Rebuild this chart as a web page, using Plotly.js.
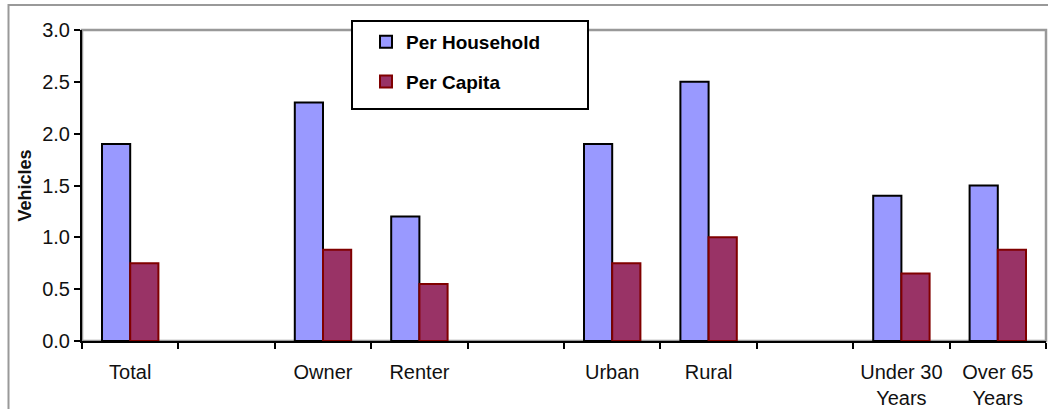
<!DOCTYPE html>
<html>
<head>
<meta charset="utf-8">
<script src="https://cdn.plot.ly/plotly-3.0.1.min.js"></script>
<style>
  html, body { margin: 0; padding: 0; background: #fff; }
  #chart { width: 1048px; height: 409px; }
</style>
</head>
<body>
<div id="chart"></div>
<script>
// Categories (blank slots separate the groups)
const categories = ['Total', ' ', 'Owner', 'Renter', '  ', 'Urban', 'Rural', '   ', 'Under 30<br>Years', 'Over 65<br>Years'];
const perHousehold = [1.9, null, 2.3, 1.2, null, 1.9, 2.5, null, 1.4, 1.5];
const perCapita    = [0.75, null, 0.88, 0.55, null, 0.75, 1.0, null, 0.65, 0.88];
const yTicks = [0, 0.5, 1.0, 1.5, 2.0, 2.5, 3.0];

const FONT = 'Liberation Sans, Arial, sans-serif';

const traces = [
  {
    type: 'bar', name: 'Per Household', x: categories, y: perHousehold,
    legendgroup: 'a',
    marker: { color: '#9999FF', line: { color: '#000000', width: 2 } },
    hoverinfo: 'x+y'
  },
  {
    type: 'bar', name: 'Per Capita', x: categories, y: perCapita,
    legendgroup: 'b',
    marker: { color: '#993366', line: { color: '#800000', width: 2 } },
    hoverinfo: 'x+y'
  }
];

const L = 82, R = 1046, T = 30, B = 341;
const W = R - L, H = B - T;
const px = v => (v - L) / W;
const py = v => (B - v) / H;

const layout = {
  width: 1048, height: 409,
  margin: { l: L, r: 1048 - R, t: T, b: 409 - B },
  paper_bgcolor: '#ffffff', plot_bgcolor: '#ffffff',
  font: { family: FONT, color: '#111111' },
  barmode: 'group', bargap: 0.415, bargroupgap: 0,
  showlegend: true,
  legend: {
    x: px(366), y: py(23), xanchor: 'left', yanchor: 'top',
    bgcolor: 'rgba(0,0,0,0)', borderwidth: 0,
    font: { family: FONT, size: 19, weight: 'bold', color: '#000' },
    traceorder: 'grouped', tracegroupgap: 12
  },
  xaxis: {
    type: 'category',
    showline: true, linecolor: '#000', linewidth: 2,
    ticks: 'outside', tickson: 'boundaries', ticklen: 6, tickwidth: 2, tickcolor: '#000',
    tickfont: { family: FONT, size: 20, color: '#111' },
    ticklabelstandoff: 12,
    showgrid: false, zeroline: false, fixedrange: true
  },
  yaxis: {
    range: [0, 3], tickvals: yTicks, tickformat: '.1f',
    showline: true, linecolor: '#000', linewidth: 2,
    ticks: 'outside', ticklen: 6, tickwidth: 2, tickcolor: '#000',
    tickfont: { family: FONT, size: 20, color: '#111' },
    showgrid: false, zeroline: false, fixedrange: true,
    title: { text: 'Vehicles', font: { family: FONT, size: 18, weight: 'bold', color: '#111' }, standoff: 6 }
  },
  shapes: [
    // outer border
    { type: 'rect', xref: 'paper', yref: 'paper', x0: px(8.5), x1: px(1060), y0: py(420), y1: py(5),
      line: { color: '#999999', width: 2 }, fillcolor: 'rgba(0,0,0,0)', layer: 'below' },
    // plot frame (top/right gray)
    { type: 'rect', xref: 'paper', yref: 'paper', x0: 0, x1: 1, y0: 0, y1: 1,
      line: { color: '#999999', width: 2.5 }, fillcolor: 'rgba(0,0,0,0)', layer: 'below' },
    // legend box
    { type: 'rect', xref: 'paper', yref: 'paper', x0: px(352), x1: px(588), y0: py(109), y1: py(21),
      line: { color: '#000000', width: 2 }, fillcolor: '#ffffff', layer: 'above' }
  ]
};

Plotly.newPlot('chart', traces, layout, { displayModeBar: false, staticPlot: true });
</script>
</body>
</html>
